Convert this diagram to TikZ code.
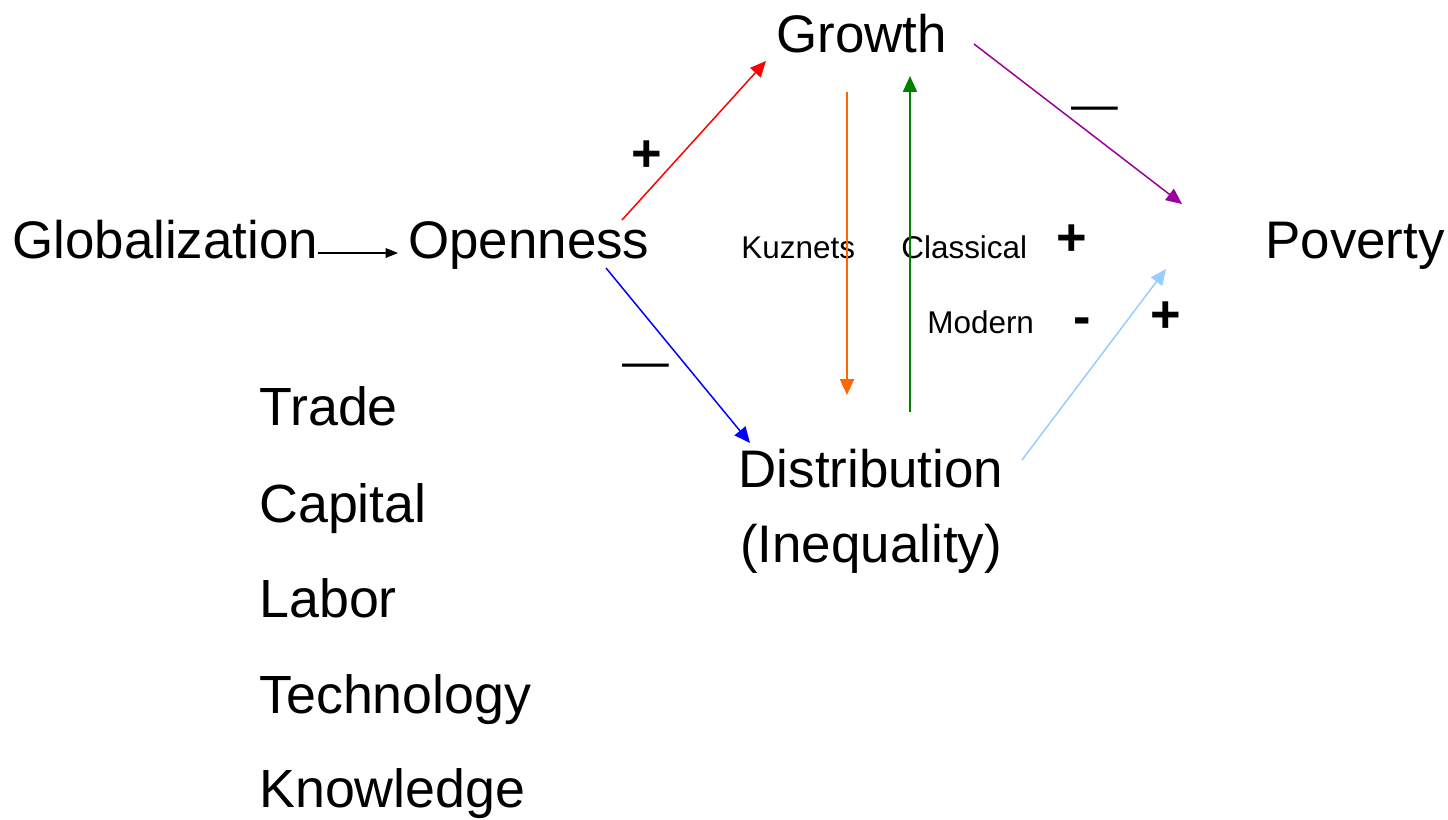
\documentclass[tikz,border=0pt]{standalone}
\usepackage{fontspec}
\setmainfont{Liberation Sans}
\usepackage{tikz}
\usetikzlibrary{arrows.meta,positioning}
\definecolor{linkred}{RGB}{255,0,0}
\definecolor{linkblue}{RGB}{0,0,255}
\definecolor{linkorange}{RGB}{255,102,0}
\definecolor{linkgreen}{RGB}{0,128,0}
\definecolor{linkpurple}{RGB}{153,0,153}
\definecolor{linksky}{RGB}{153,204,255}

\begin{document}
\begin{tikzpicture}[
  x=0.02cm, y=-0.02cm,
  big/.style={inner sep=0pt, anchor=base west, font=\fontsize{30.1}{42.5}\selectfont},
  factor/.style={inner sep=0pt, anchor=base west, font=\fontsize{30.6}{36}\selectfont},
  small/.style={inner sep=0pt, anchor=base west, font=\fontsize{17.9}{21}\selectfont},
  sign/.style={inner sep=0pt, font=\fontsize{29.8}{36}\selectfont\bfseries},
  dashlbl/.style={inner sep=0pt, font=\fontsize{26.6}{30}\selectfont},
  arr/.style={-{Triangle[length=9pt,width=8pt]}, line width=0.85pt}
]
\useasboundingbox (0,0) rectangle (1448,819);

% main concepts
\node[big] (glob) at (12,258) {Globalization};
\node[big] (open) at (408,258) {Openness};
\node[big] (grow) at (776,52) {Growth};
\node[big] (pov) at (1265,258) {Poverty};
\node[big, anchor=base, align=center] (dist) at (871,562) {Distribution\\(Inequality)};

% channels of openness
\node[factor] (trade) at (259,425) {Trade};
\node[factor] (cap) at (259,522) {Capital};
\node[factor] (lab) at (259,617) {Labor};
\node[factor] (tech) at (259,713) {Technology};
\node[factor] (know) at (259,807) {Knowledge};

% theories
\node[small] (kuz) at (741,258) {Kuznets};
\node[small] (cla) at (901,258) {Classical};
\node[small] (mod) at (927,333) {Modern};

% signs of the links
\node[sign] (s1) at (647,156) {+};
\node[sign] (s2) at (1072,240) {+};
\node[sign] (s3) at (1082,326) {-};
\node[sign] (s4) at (1166,317) {+};
\node[dashlbl] (d1) at (1095,114) {—};
\node[dashlbl] (d2) at (646,371) {—};

% arrow ends
\coordinate (ga) at (318,253);
\coordinate (ob) at (398,253);
\coordinate (or1) at (622,220);
\coordinate (gr1) at (766,61);
\coordinate (ob1) at (606,268);
\coordinate (db1) at (750,443);
\coordinate (ku1) at (847,92);
\coordinate (ku2) at (847,395);
\coordinate (cl1) at (910,412);
\coordinate (cl2) at (910,76);
\coordinate (gp1) at (974,44);
\coordinate (gp2) at (1182,204);
\coordinate (dp1) at (1022,460);
\coordinate (dp2) at (1166,269);

\draw[-{Triangle[length=7pt,width=5.5pt]}, line width=0.6pt] (ga) -- (ob);
\draw[arr, linkred] (or1) -- (gr1);
\draw[arr, linkblue] (ob1) -- (db1);
\draw[arr, linkorange] (ku1) -- (ku2);
\draw[arr, linkgreen] (cl1) -- (cl2);
\draw[arr, linkpurple] (gp1) -- (gp2);
\draw[arr, linksky] (dp1) -- (dp2);
\end{tikzpicture}
\end{document}
